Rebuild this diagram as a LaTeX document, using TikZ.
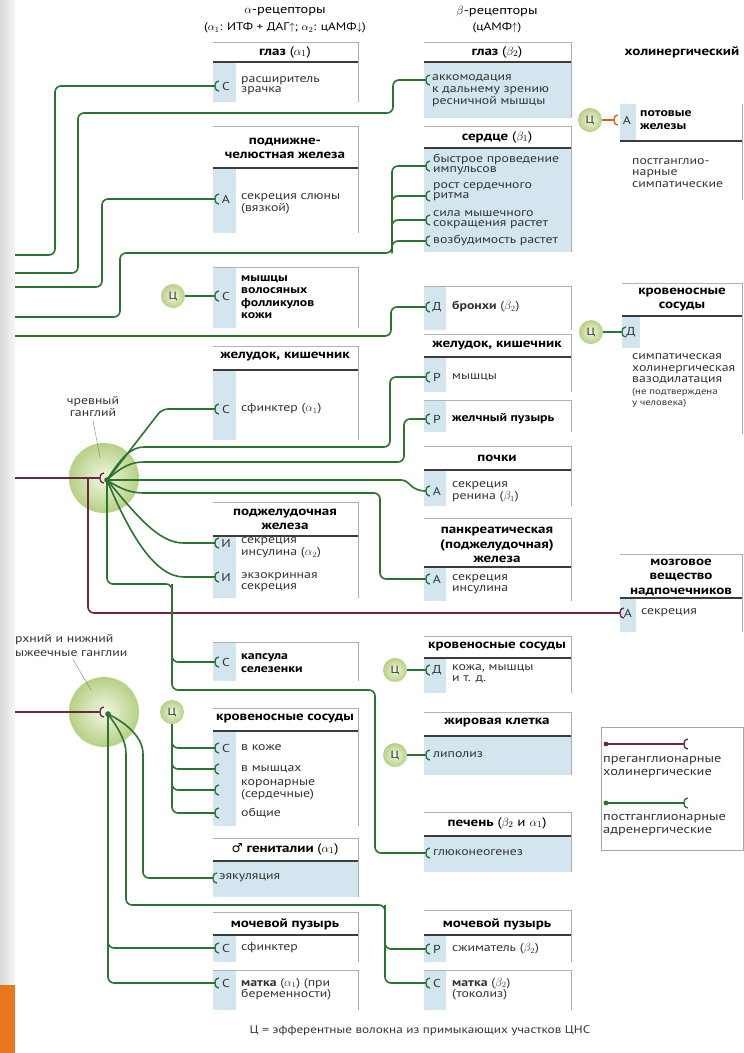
\documentclass[tikz,border=0pt]{standalone}
\usepackage{fontspec}
\setmainfont{PT Sans}[FakeStretch=1.2]
\newfontfamily\signfont{DejaVu Sans}
\definecolor{postgr}{HTML}{2A7430}
\definecolor{pregr}{HTML}{6B2846}
\definecolor{cholor}{HTML}{D0661E}
\definecolor{stripbl}{HTML}{D3E6F0}
\definecolor{ruledk}{HTML}{3C3C3C}
\definecolor{ganglout}{HTML}{B6D084}
\definecolor{ganglin}{HTML}{F2F7E2}
\definecolor{inkgr}{HTML}{333333}
\definecolor{sidegr}{HTML}{D9D9D9}
\definecolor{sideor}{HTML}{E8761C}

\begin{document}
\begin{tikzpicture}[x=1pt,y=-1pt]
	\tikzstyle{postwire}=[draw=postgr,line width=1.6pt,rounded corners=6pt]
	\tikzstyle{prewire}=[draw=pregr,line width=1.6pt,rounded corners=6pt]
	\tikzstyle{cholwire}=[draw=cholor,line width=1.6pt]
	\tikzstyle{toprule}=[draw=gray!60,line width=0.7pt]
	\tikzstyle{midrule}=[draw=ruledk,line width=1.4pt]
	\tikzstyle{sideline}=[draw=gray!65,line width=0.6pt]
	\tikzstyle{boxhead}=[font=\fontsize{12.5}{14}\selectfont\bfseries,align=center,inner sep=0pt]
	\tikzstyle{headtall}=[font=\fontsize{12.5}{14.5}\selectfont\bfseries]
	\tikzstyle{txt}=[font=\fontsize{11.5}{11.5}\selectfont,text=inkgr,align=left,anchor=west,inner sep=0pt]
	\tikzstyle{txttight}=[font=\fontsize{11.5}{10}\selectfont]
	\tikzstyle{txtb}=[font=\fontsize{11.5}{12.5}\selectfont\bfseries,text=black]
	\tikzstyle{lett}=[font=\fontsize{11.5}{11}\selectfont,text=inkgr,inner sep=0pt]
	\tikzstyle{cns}=[circle,minimum size=24pt,inner sep=0pt,inner color=ganglin,outer color=ganglout,font=\fontsize{10.5}{10}\selectfont,text=inkgr]
	\tikzstyle{ganglion}=[circle,minimum size=70pt,inner sep=0pt,inner color=ganglin,outer color=ganglout]
	\tikzstyle{pointer}=[draw=gray,line width=0.4pt]
	\tikzset{cup/.pic={\draw[line width=1.3pt,rounded corners=0pt] (4,-5) .. controls (0,-4) and (0,-2) .. (0,0) .. controls (0,2) and (0,4) .. (4,5);}}

	% page, side strip
	\useasboundingbox (0,0) rectangle (744,1053);
	\fill[white] (0,0) rectangle (744,1053);
	\shade[left color=sidegr,right color=gray!6] (0,0) rectangle (15,1053);
	\fill[sideor] (0,985) rectangle (15,1053);

	% blue strips and blue bodies
	\foreach \xa/\xb/\ya/\yb in {213/236/62/102, 213/236/168/233, 213/236/267/328, 213/236/370/440,
		213/236/536/598, 213/236/642/681, 213/236/731/826, 213/358/861/897, 213/236/935/962, 213/236/970/1010,
		424/571/62/118, 424/571/148/252, 424/446/286/330, 424/446/357/392, 424/446/400/432, 424/446/470/506,
		424/446/567/601, 424/446/658/693, 424/571/736/775, 424/571/836/872, 424/446/935/962, 424/446/970/1010,
		620/636/104/141, 622/640/316/348, 620/636/598/632}
		\fill[stripbl] (\xa,\ya) rectangle (\xb,\yb);

	% boxes with a header
	\foreach \xa/\xb/\yt/\yh/\yb in {213/358/42/62/102, 213/358/126/168/233, 213/358/346/370/440, 213/358/502/536/598,
		213/358/708/731/826, 213/358/838/861/897, 213/358/912/935/962,
		424/571/42/62/118, 424/571/126/148/252, 424/571/334/357/392, 424/571/446/470/506, 424/571/518/567/601,
		424/571/636/658/693, 424/571/712/736/775, 424/571/812/836/872, 424/571/910/935/962,
		622/742/283/316/434, 620/742/554/598/632}{
		\draw[toprule] (\xa,\yt) -- (\xb,\yt);
		\draw[midrule] (\xa,\yh) -- (\xb,\yh);
		\draw[sideline] (\xb,\yt) -- (\xb,\yb);
	}
	% boxes without a header
	\foreach \xa/\xb/\yt/\yb in {213/358/267/328, 213/358/642/681, 213/358/970/1010,
		424/571/286/330, 424/571/400/432, 424/571/970/1010}{
		\draw[toprule] (\xa,\yt) -- (\xb,\yt);
		\draw[sideline] (\xb,\yt) -- (\xb,\yb);
	}
	\draw[midrule] (620,141) -- (742,141);
	\draw[sideline] (742,104) -- (742,200);

	% ganglia and CNS fibres
	\node[ganglion] (celiac) at (104,478) {};
	\node[ganglion] (mesent) at (104,712) {};
	\node[cns] (cnsA) at (173,296) {Ц};
	\node[cns] (cnsB) at (172,712) {Ц};
	\node[cns] (cnsC) at (395,670) {Ц};
	\node[cns] (cnsD) at (395,755) {Ц};
	\node[cns] (cnsE) at (590,120) {Ц};
	\node[cns] (cnsF) at (591,332) {Ц};

	% wire ends
	\coordinate (c1) at (107,480);
	\coordinate (c2) at (108,714);
	\coordinate (rG1) at (100,478);
	\coordinate (rG2) at (100,712);
	\coordinate (in1) at (15,255);
	\coordinate (in2) at (15,273);
	\coordinate (in3) at (15,287);
	\coordinate (in4) at (15,317);
	\coordinate (in5) at (15,336);
	\coordinate (pin1) at (15,478);
	\coordinate (pin2) at (15,712);
	\coordinate (pbr) at (88,478);
	\coordinate (bus2) at (392,253);
	\coordinate (spl) at (172,584);
	\coordinate (bb) at (385,905);

	\coordinate (rL1) at (215,86);
	\coordinate (rL2) at (215,199);
	\coordinate (rL3) at (215,296);
	\coordinate (rL4) at (215,409);
	\coordinate (rL5a) at (215,543);
	\coordinate (rL5b) at (215,577);
	\coordinate (rL6) at (215,662);
	\coordinate (rL7a) at (215,748);
	\coordinate (rL7b) at (215,769);
	\coordinate (rL7c) at (215,790);
	\coordinate (rL7d) at (215,813);
	\coordinate (rL8) at (213,878);
	\coordinate (rL9) at (215,948);
	\coordinate (rL10) at (215,983);
	\coordinate (rR1) at (426,80);
	\coordinate (rR2a) at (426,166);
	\coordinate (rR2b) at (426,196);
	\coordinate (rR2c) at (426,220);
	\coordinate (rR2d) at (426,241);
	\coordinate (rR3) at (426,307);
	\coordinate (rR4) at (426,377);
	\coordinate (rR5) at (426,419);
	\coordinate (rR6) at (426,491);
	\coordinate (rR7) at (426,579);
	\coordinate (rR8) at (426,670);
	\coordinate (rR9) at (426,755);
	\coordinate (rR10) at (426,853);
	\coordinate (rR11) at (426,949);
	\coordinate (rR12) at (426,983);
	\coordinate (rF1) at (614,120);
	\coordinate (rF2) at (622,332);
	\coordinate (rF3) at (620,613);
	\coordinate (lgp0) at (606,744);
	\coordinate (lgp) at (684,744);
	\coordinate (lgg0) at (606,803);
	\coordinate (lgg) at (684,803);

	% preganglionic fibres
	\draw[prewire] (pin1) -- (rG1);
	\draw[prewire] (pbr) |- (rF3);
	\draw[prewire] (pin2) -- (rG2);

	% fibres coming in from the left
	\draw[postwire] (in1) -- (55,255) |- (rL1);
	\draw[postwire] (in2) -- (78,273) -- (78,113) -- (393,113) |- (rR1);
	\draw[postwire] (in3) -- (102,287) |- (rL2);
	\draw[postwire] (in4) -- (120,317) -- (120,253) -- (bus2) |- (rR2a);
	\foreach \r in {rR2b,rR2c,rR2d}
		\draw[postwire] (bus2) |- (\r);
	\draw[postwire] (in5) -- (391,336) |- (rR3);

	% from the celiac ganglion
	\draw[postwire] (c1) -- (162,409) -- (rL4);
	\draw[postwire] (c1) .. controls (122,456) and (132,447) .. (150,447) -- (390,447) |- (rR4);
	\draw[postwire] (c1) .. controls (122,466) and (132,462) .. (150,462) -- (404,462) |- (rR5);
	\draw[postwire] (c1) -- (395,480) .. controls (410,480) and (410,491) .. (rR6);
	\draw[postwire] (c1) .. controls (122,490) and (132,493) .. (150,493) -- (380,493) |- (rR7);
	\draw[postwire] (c1) .. controls (140,520) and (160,543) .. (190,543) -- (rL5a);
	\draw[postwire] (c1) .. controls (130,535) and (155,577) .. (190,577) -- (rL5b);
	\draw[postwire] (c1) -- (107,584) -- (spl) -- (172,690) -- (375,690) |- (rR10);
	\draw[postwire] (spl) |- (rL6);

	% from the mesenteric ganglia
	\draw[postwire] (c2) |- (rL9);
	\draw[postwire] (c2) |- (rL10);
	\draw[postwire] (c2) .. controls (118,728) and (126,740) .. (126,760) -- (126,905) -- (bb) |- (rR12);
	\draw[postwire] (bb) |- (rR11);
	\draw[postwire] (c2) .. controls (128,724) and (143,738) .. (143,760) |- (rL8);

	% CNS fibres
	\draw[postwire] (cnsA) -- (rL3);
	\foreach \r in {rL7a,rL7b,rL7c,rL7d}
		\draw[postwire] (cnsB) |- (\r);
	\draw[postwire] (cnsC) -- (rR8);
	\draw[postwire] (cnsD) -- (rR9);
	\draw[cholwire] (cnsE) -- (rF1);
	\draw[postwire] (cnsF) -- (rF2);

	% legend
	\draw[gray!70,line width=0.7pt] (601,727) rectangle (743,850);
	\draw[prewire] (lgp0) -- (lgp);
	\draw[postwire] (lgg0) -- (lgg);
	\fill[pregr] (lgp0) circle (2.4);
	\fill[postgr] (lgg0) circle (2.4);
	\node[txt,font=\fontsize{12}{13}\selectfont] (lgt1) at (603,767) {преганглионарные\\холинергические};
	\node[txt,font=\fontsize{12}{13}\selectfont] (lgt2) at (603,825) {постганглионарные\\адренергические};

	% receptors
	\foreach \r in {rL1,rL2,rL3,rL4,rL5a,rL5b,rL6,rL7a,rL7b,rL7c,rL7d,rL8,rL9,rL10,
		rR1,rR2a,rR2b,rR2c,rR2d,rR3,rR4,rR5,rR6,rR7,rR8,rR9,rR10,rR11,rR12,rF2,lgg}
		\pic[postgr] at (\r) {cup};
	\foreach \r in {rG1,rG2,rF3,lgp}
		\pic[pregr] at (\r) {cup};
	\pic[cholor] at (rF1) {cup};
	\fill[postgr] (c1) circle (2.8);
	\fill[postgr] (c2) circle (2.8);

	% column titles
	\node[font=\fontsize{12}{13}\selectfont] (alpha) at (285,12) {$\alpha$-рецепторы};
	\node[font=\fontsize{11}{13}\selectfont] (alphanote) at (285,28) {($\alpha_1$: ИТФ + ДАГ$\uparrow$; $\alpha_2$: цАМФ$\downarrow$)};
	\node[font=\fontsize{12}{13}\selectfont] (beta) at (497,12) {$\beta$-рецепторы};
	\node[font=\fontsize{11}{13}\selectfont] (betanote) at (497,28) {(цАМФ$\uparrow$)};
	\node[boxhead] (hF0) at (682,52) {холинергический};

	% ganglion labels
	\node[font=\fontsize{11.5}{12}\selectfont,align=center,text=inkgr] (lab1) at (93,407) {чревный\\ганглий};
	\draw[pointer,shorten >=20pt] (lab1.south) -- (celiac.center);
	\node[txt,anchor=north west,font=\fontsize{11.5}{14}\selectfont] (lab2) at (15,634) {рхний и нижний\\ыжеечные ганглии};
	\draw[pointer,shorten >=25pt,shorten <=3pt] (lab2.south) -- (mesent.center);

	% alpha column
	\node[boxhead] (hL1) at (285,52) {глаз \mdseries($\alpha_1$)};
	\node[lett] (lL1) at (226,86) {С};
	\node[txt,txttight] (tL1) at (241,86) {расширитель\\зрачка};
	\node[boxhead] (hL2) at (285,148) {поднижне-\\челюстная железа};
	\node[lett] (lL2) at (226,199) {А};
	\node[txt] (tL2) at (241,204) {секреция слюны\\(вязкой)};
	\node[lett] (lL3) at (226,296) {С};
	\node[txt,txtb] (tL3) at (241,297) {мышцы\\волосяных\\фолликулов\\кожи};
	\node[boxhead] (hL4) at (285,357) {желудок, кишечник};
	\node[lett] (lL4) at (226,409) {С};
	\node[txt] (tL4) at (241,409) {сфинктер ($\alpha_1$)};
	\node[boxhead] (hL5) at (285,519) {поджелудочная\\железа};
	\node[lett] (lL5a) at (226,543) {И};
	\node[txt] (tL5a) at (241,548) {секреция\\инсулина ($\alpha_2$)};
	\node[lett] (lL5b) at (226,577) {И};
	\node[txt] (tL5b) at (241,582) {экзокринная\\секреция};
	\node[lett] (lL6) at (226,662) {С};
	\node[txt,txtb] (tL6) at (241,663) {капсула\\селезенки};
	\node[boxhead] (hL7) at (285,719) {кровеносные сосуды};
	\node[lett] (lL7) at (226,748) {С};
	\node[txt] (tL7a) at (241,748) {в коже};
	\node[txt] (tL7b) at (241,769) {в мышцах};
	\node[txt,txttight] (tL7c) at (241,790) {коронарные\\(сердечные)};
	\node[txt] (tL7d) at (241,813) {общие};
	\node[boxhead] (hL8) at (285,849) {{\signfont\mdseries\char"2642} гениталии \mdseries($\alpha_1$)};
	\node[txt] (tL8) at (219,878) {эякуляция};
	\node[boxhead] (hL9) at (285,924) {мочевой пузырь};
	\node[lett] (lL9) at (226,948) {С};
	\node[txt] (tL9) at (241,948) {сфинктер};
	\node[lett] (lL10) at (226,983) {С};
	\node[txt] (tL10) at (241,989) {\textbf{матка} ($\alpha_1$) (при\\беременности)};

	% beta column
	\node[boxhead] (hR1) at (497,52) {глаз \mdseries($\beta_2$)};
	\node[txt,font=\fontsize{11.5}{12}\selectfont] (tR1) at (432,91) {аккомодация\\к дальнему зрению\\ресничной мышцы};
	\node[boxhead] (hR2) at (497,137) {сердце \mdseries($\beta_1$)};
	\node[txt,txttight] (tR2a) at (433,165) {быстрое проведение\\импульсов};
	\node[txt,txttight] (tR2b) at (433,192) {рост сердечного\\ритма};
	\node[txt,txttight] (tR2c) at (433,220) {сила мышечного\\сокращения растет};
	\node[txt] (tR2d) at (433,241) {возбудимость растет};
	\node[lett] (lR3) at (437,307) {Д};
	\node[txt] (tR3) at (452,307) {\textbf{бронхи} ($\beta_2$)};
	\node[boxhead] (hR4) at (497,346) {желудок, кишечник};
	\node[lett] (lR4) at (437,377) {Р};
	\node[txt] (tR4) at (452,377) {мышцы};
	\node[lett] (lR5) at (437,419) {Р};
	\node[txt,txtb] (tR5) at (452,419) {желчный пузырь};
	\node[boxhead] (hR6) at (497,458) {почки};
	\node[lett] (lR6) at (437,491) {А};
	\node[txt,txttight] (tR6) at (452,492) {секреция\\ренина ($\beta_1$)};
	\node[boxhead,headtall] (hR7) at (497,545) {панкреатическая\\(поджелудочная)\\железа};
	\node[lett] (lR7) at (437,579) {А};
	\node[txt] (tR7) at (452,584) {секреция\\инсулина};
	\node[boxhead] (hR8) at (497,647) {кровеносные сосуды};
	\node[lett] (lR8) at (437,670) {Д};
	\node[txt] (tR8) at (452,674) {кожа, мышцы\\и т. д.};
	\node[boxhead] (hR9) at (497,723) {жировая клетка};
	\node[txt] (tR9) at (433,755) {липолиз};
	\node[boxhead] (hR10) at (497,823) {печень \mdseries($\beta_2$ и $\alpha_1$)};
	\node[txt] (tR10) at (433,853) {глюконеогенез};
	\node[boxhead] (hR11) at (497,924) {мочевой пузырь};
	\node[lett] (lR11) at (437,949) {Р};
	\node[txt] (tR11) at (452,949) {сжиматель ($\beta_2$)};
	\node[lett] (lR12) at (437,983) {С};
	\node[txt] (tR12) at (452,989) {\textbf{матка} ($\beta_2$)\\(токолиз)};

	% cholinergic column
	\node[lett] (lF1) at (627,120) {А};
	\node[txt,txtb] (tF1) at (640,120) {потовые\\железы};
	\node[txt] (tF1b) at (632,173) {постганглио-\\нарные\\симпатические};
	\node[boxhead] (hF2) at (682,300) {кровеносные\\сосуды};
	\node[lett] (lF2) at (631,332) {Д};
	\node[txt] (tF2) at (632,381) {симпатическая\\холинергическая\\вазодилатация\\\fontsize{9}{9.5}\selectfont(не подтверждена\\\fontsize{9}{9.5}\selectfont у человека)};
	\node[boxhead,headtall] (hF3) at (681,577) {мозговое\\вещество\\надпочечников};
	\node[lett] (lF3) at (628,613) {А};
	\node[txt] (tF3) at (641,613) {секреция};

	\node[font=\fontsize{11}{12}\selectfont,text=inkgr] (note) at (420,1031) {Ц = эфферентные волокна из примыкающих участков ЦНС};
\end{tikzpicture}
\end{document}
